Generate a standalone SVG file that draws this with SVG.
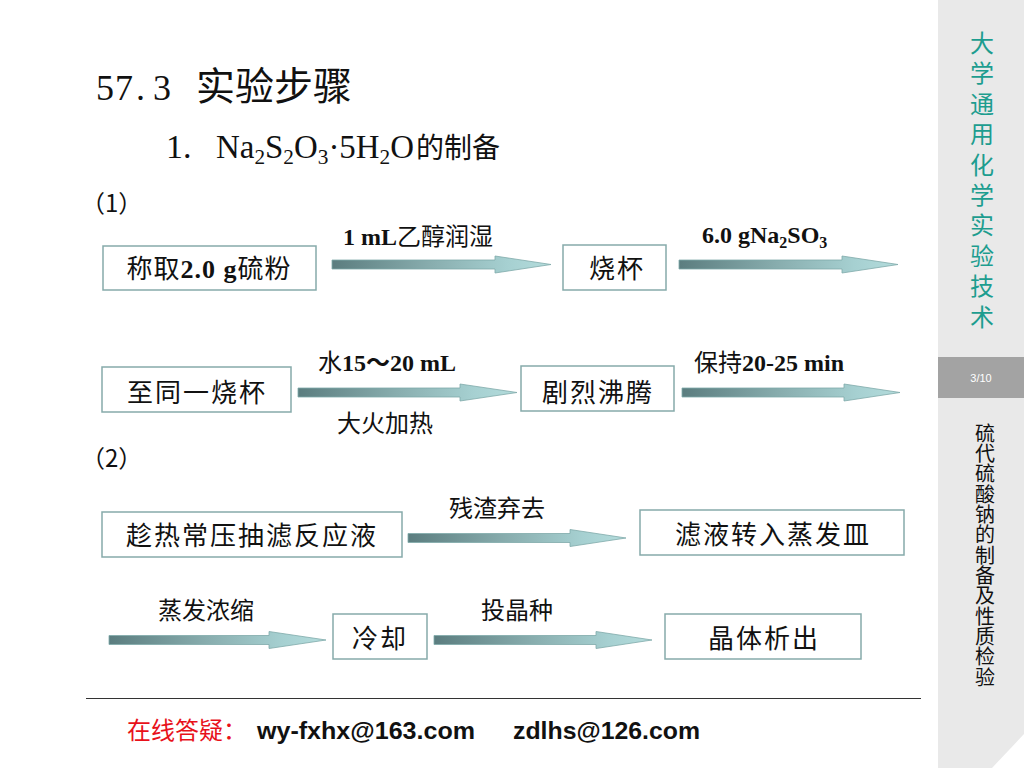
<svg xmlns="http://www.w3.org/2000/svg" width="1024" height="768" viewBox="0 0 1024 768">
<defs>
<linearGradient id="ag" x1="0" y1="0" x2="1" y2="0">
<stop offset="0" stop-color="#5b7d7f"/>
<stop offset="0.45" stop-color="#88adae"/>
<stop offset="0.8" stop-color="#a6d0d1"/>
<stop offset="1" stop-color="#b4dcdc"/>
</linearGradient>
<style>
.box{fill:#fff;stroke:#86aaaa;stroke-width:1.5}
.bt{font-family:'Liberation Serif','Noto Sans CJK SC',serif;font-size:26px;fill:#111;text-anchor:middle;letter-spacing:2px}
.lb{font-family:'Liberation Serif','Noto Sans CJK SC',serif;font-size:24px;fill:#111}
.b{font-weight:bold}
.arr{fill:url(#ag);stroke:#7fa9aa;stroke-width:0.8}
.side1{font-family:'Noto Sans CJK SC',sans-serif;font-size:24px;fill:#1d9d8f;text-anchor:middle}
.side2{font-family:'Noto Sans CJK SC',sans-serif;font-size:20px;fill:#111;text-anchor:middle}
</style>
</defs>
<rect width="1024" height="768" fill="#fff"/>
<g id="sidebar">
<rect x="938" y="0" width="86" height="768" fill="#e9e9e9"/>
<rect x="938" y="357" width="86" height="41" fill="#a3a3a3"/>
<text x="981" y="382" font-family="'Liberation Sans',sans-serif" font-size="11" fill="#fff" text-anchor="middle">3/10</text>
<text class="side1" x="982 982 982 982 982 982 982 982 982 982" y="52 82 113 143 174 204 234 265 295 326">大学通用化学实验技术</text>
<text class="side2" x="985 985 985 985 985 985 985 985 985 985 985 985 985" y="441 461 481 502 522 542 563 583 603 624 644 664 685">硫代硫酸钠的制备及性质检验</text>
<polygon points="992,768 1024,734 1024,768" fill="#fff"/>
</g>
<g id="title">
<text font-family="'Liberation Serif','Noto Sans CJK SC',serif" font-size="36" fill="#111" x="96 115 136 153" y="100">57.3</text>
<text font-family="'Noto Sans CJK SC',sans-serif" font-size="39" fill="#111" x="196" y="100">实验步骤</text>
</g>
<g id="subtitle">
<text font-family="'Liberation Serif',serif" font-size="34" fill="#111" x="166" y="158">1.</text>
<text font-family="'Liberation Serif',serif" font-size="34" fill="#111" x="216" y="158" textLength="198" lengthAdjust="spacingAndGlyphs">Na<tspan font-size="22" dy="6">2</tspan><tspan dy="-6">S</tspan><tspan font-size="22" dy="6">2</tspan><tspan dy="-6">O</tspan><tspan font-size="22" dy="6">3</tspan><tspan dy="-6">·5H</tspan><tspan font-size="22" dy="6">2</tspan><tspan dy="-6">O</tspan></text>
<text font-family="'Noto Sans CJK SC',sans-serif" font-size="28" fill="#111" x="416" y="158">的制备</text>
</g>
<text id="step1" font-family="'Noto Sans CJK SC',sans-serif" font-size="24" fill="#111" x="81" y="212">（1）</text>
<text id="step2" font-family="'Noto Sans CJK SC',sans-serif" font-size="24" fill="#111" x="81" y="467">（2）</text>
<g id="connectors">
<path class="arr" d="M332,260 H495 V256 L551,264.5 L495,273 V269 H332 Z"/>
<path class="arr" d="M679,260 H842 V256 L898,264.5 L842,273 V269 H679 Z"/>
<path class="arr" d="M298,388 H460 V384 L517,392.5 L460,401 V397 H298 Z"/>
<path class="arr" d="M682,388 H844 V384 L900,392.5 L844,401 V397 H682 Z"/>
<path class="arr" d="M408,533.5 H570 V529.5 L626,538 L570,546.5 V542.5 H408 Z"/>
<path class="arr" d="M109,635.5 H269 V631.5 L326,640 L269,648.5 V644.5 H109 Z"/>
<path class="arr" d="M434,635.5 H596 V631.5 L652,640 L596,648.5 V644.5 H434 Z"/>
<text class="lb" x="343" y="245"><tspan class="b">1 mL</tspan>乙醇润湿</text>
<text class="lb" x="702" y="243"><tspan class="b">6.0 gNa</tspan><tspan class="b" font-size="16" dy="5">2</tspan><tspan class="b" dy="-5">SO</tspan><tspan class="b" font-size="16" dy="5">3</tspan></text>
<text class="lb" x="318" y="371">水<tspan class="b">15～20 mL</tspan></text>
<text class="lb" x="385" y="432" text-anchor="middle">大火加热</text>
<text class="lb" x="694" y="371">保持<tspan class="b">20-25 min</tspan></text>
<text class="lb" x="497" y="517" text-anchor="middle">残渣弃去</text>
<text class="lb" x="206" y="619" text-anchor="middle">蒸发浓缩</text>
<text class="lb" x="517" y="619" text-anchor="middle">投晶种</text>
</g>
<g id="n1"><rect class="box" x="103" y="246" width="213" height="44"/><text class="bt" x="209" y="278" style="letter-spacing:1px">称取<tspan class="b">2.0 g</tspan>硫粉</text></g>
<g id="n2"><rect class="box" x="563" y="245" width="103" height="45"/><text class="bt" x="617" y="278">烧杯</text></g>
<g id="n3"><rect class="box" x="102" y="367" width="189" height="45"/><text class="bt" x="197" y="402">至同一烧杯</text></g>
<g id="n4"><rect class="box" x="521" y="366" width="153" height="45"/><text class="bt" x="598" y="402">剧烈沸腾</text></g>
<g id="n5"><rect class="box" x="102" y="512" width="300" height="45"/><text class="bt" x="252" y="545">趁热常压抽滤反应液</text></g>
<g id="n6"><rect class="box" x="640" y="510" width="264" height="45"/><text class="bt" x="773" y="544">滤液转入蒸发皿</text></g>
<g id="n7"><rect class="box" x="333" y="614" width="94" height="45"/><text class="bt" x="380" y="648">冷却</text></g>
<g id="n8"><rect class="box" x="665" y="614" width="196" height="45"/><text class="bt" x="764" y="648">晶体析出</text></g>
<g id="footer">
<line x1="86" y1="698.5" x2="921" y2="698.5" stroke="#333" stroke-width="1.2"/>
<text font-family="'Noto Sans CJK SC',sans-serif" font-size="24" fill="#e8111a" x="127" y="739">在线答疑：</text>
<text font-family="'Liberation Sans',sans-serif" font-weight="bold" font-size="24" fill="#111" x="257" y="739" textLength="218" lengthAdjust="spacingAndGlyphs">wy-fxhx@163.com</text>
<text font-family="'Liberation Sans',sans-serif" font-weight="bold" font-size="24" fill="#111" x="513" y="739" textLength="187" lengthAdjust="spacingAndGlyphs">zdlhs@126.com</text>
</g>
</svg>
